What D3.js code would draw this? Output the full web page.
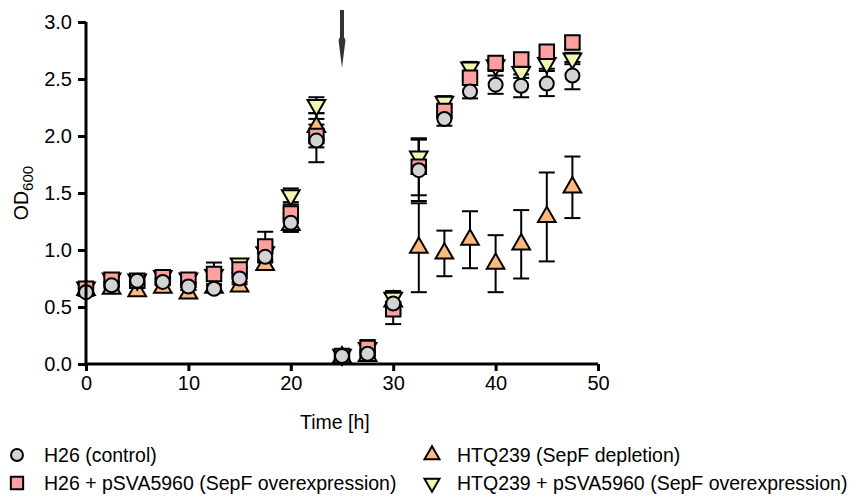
<!DOCTYPE html>
<html>
<head>
<meta charset="utf-8">
<script src="https://cdn.jsdelivr.net/npm/d3@7"></script>
<style>
  html, body { margin: 0; padding: 0; background: #fff; }
  svg { display: block; }
  text { font-family: "Liberation Sans", Arial, sans-serif; fill: #000; }
</style>
</head>
<body>
<div id="chart"></div>
<script>
// ---- data ----
const times = [0, 2.5, 5, 7.5, 10, 12.5, 15, 17.5, 20, 22.5, 25, 27.5, 30, 32.5, 35, 37.5, 40, 42.5, 45, 47.5];

const h26Values   = [0.63, 0.69, 0.73, 0.72, 0.68, 0.66, 0.75, 0.94, 1.24, 1.96, 0.07, 0.09, 0.53, 1.70, 2.15, 2.39, 2.45, 2.44, 2.46, 2.53];
const h26Errors   = [0.03, 0.03, 0.03, 0.03, 0.03, 0.03, 0.05, 0.05, 0.08, 0.19, 0.02, 0.03, 0.09, 0.27, 0.06, 0.06, 0.08, 0.10, 0.11, 0.12];

const h26pValues  = [0.66, 0.74, 0.73, 0.76, 0.74, 0.79, 0.83, 1.03, 1.32, 2.00, 0.07, 0.14, 0.48, 1.73, 2.22, 2.51, 2.64, 2.67, 2.74, 2.82];
const h26pErrors  = [0.03, 0.04, 0.04, 0.04, 0.04, 0.10, 0.08, 0.13, 0.08, 0.10, 0.03, 0.07, 0.13, 0.25, 0.05, 0.05, 0.05, 0.05, 0.05, 0.05];

const htqValues   = [0.65, 0.66, 0.64, 0.67, 0.62, 0.67, 0.68, 0.87, 1.22, 2.08, 0.06, 0.07, 0.55, 1.02, 0.97, 1.09, 0.88, 1.05, 1.29, 1.55];
const htqErrors   = [0.03, 0.03, 0.03, 0.03, 0.03, 0.03, 0.04, 0.04, 0.06, 0.12, 0.02, 0.03, 0.08, 0.39, 0.20, 0.25, 0.25, 0.30, 0.39, 0.27];

const htqpValues  = [0.67, 0.75, 0.74, 0.77, 0.75, 0.78, 0.88, 0.98, 1.48, 2.27, 0.08, 0.14, 0.58, 1.82, 2.30, 2.60, 2.62, 2.56, 2.64, 2.68];
const htqpErrors  = [0.03, 0.03, 0.03, 0.03, 0.03, 0.03, 0.04, 0.06, 0.06, 0.07, 0.02, 0.03, 0.06, 0.15, 0.05, 0.05, 0.05, 0.05, 0.05, 0.05];

const seriesNames = ["H26 (control)", "H26 + pSVA5960 (SepF overexpression)", "HTQ239 (SepF depletion)", "HTQ239 + pSVA5960 (SepF overexpression)"];
const xTicks = [0, 10, 20, 30, 40, 50];
const yTicks = [0.0, 0.5, 1.0, 1.5, 2.0, 2.5, 3.0];
const arrowTime = 25;

// ---- layout ----
const W = 857, H = 504;
const margin = { left: 86, right: 259, top: 22, bottom: 140 };
const x = d3.scaleLinear().domain([0, 50]).range([margin.left, W - margin.right]);
const y = d3.scaleLinear().domain([0, 3]).range([H - margin.bottom, margin.top]);

const svg = d3.select("#chart").append("svg").attr("width", W).attr("height", H);

const series = [
  { name: seriesNames[2], values: htqValues,  errors: htqErrors,  shape: "up",     fill: "#ffb97c" },
  { name: seriesNames[3], values: htqpValues, errors: htqpErrors, shape: "down",   fill: "#f3f7b2" },
  { name: seriesNames[1], values: h26pValues, errors: h26pErrors, shape: "square", fill: "#fca0a0" },
  { name: seriesNames[0], values: h26Values,  errors: h26Errors,  shape: "circle", fill: "#d4d4d4" }
];

function symbolPath(shape, scale) {
  const k = scale || 1;
  if (shape === "circle") return d3.symbol(d3.symbolCircle, 154 * k * k)();
  if (shape === "square") return d3.symbol(d3.symbolSquare, 210 * k * k)();
  return d3.symbol(d3.symbolTriangle, 135 * k * k)();
}

// ---- error bars ----
const capW = 8;
const eb = svg.append("g").attr("stroke", "#000").attr("stroke-width", 2).attr("fill", "none");
series.forEach(s => {
  times.forEach((t, i) => {
    const v = s.values[i], e = s.errors[i];
    const cx = x(t);
    eb.append("line").attr("x1", cx).attr("x2", cx).attr("y1", y(v - e)).attr("y2", y(v + e));
    eb.append("line").attr("x1", cx - capW).attr("x2", cx + capW).attr("y1", y(v - e)).attr("y2", y(v - e));
    eb.append("line").attr("x1", cx - capW).attr("x2", cx + capW).attr("y1", y(v + e)).attr("y2", y(v + e));
  });
});

// ---- markers ----
series.forEach(s => {
  svg.append("g").selectAll("path").data(times).join("path")
    .attr("d", symbolPath(s.shape))
    .attr("transform", (t, i) => `translate(${x(t)},${y(s.values[i])})` + (s.shape === "down" ? " rotate(180)" : ""))
    .attr("fill", s.fill)
    .attr("stroke", "#000")
    .attr("stroke-width", 2);
});

// ---- axes ----
const xAxis = svg.append("g").attr("transform", `translate(0,${y(0)})`)
  .call(d3.axisBottom(x).tickValues(xTicks).tickFormat(d3.format("d")).tickSize(7).tickPadding(5));
const yAxis = svg.append("g").attr("transform", `translate(${x(0)},0)`)
  .call(d3.axisLeft(y).tickValues(yTicks).tickFormat(d3.format(".1f")).tickSize(8).tickPadding(6));
[xAxis, yAxis].forEach(a => {
  a.select(".domain").attr("stroke", "#000").attr("stroke-width", 3);
  a.selectAll(".tick line").attr("stroke", "#000").attr("stroke-width", 3);
  a.selectAll(".tick text").style("font-size", "20px").style("font-family", "Liberation Sans, Arial, sans-serif").attr("fill", "#000");
});
xAxis.select(".domain").attr("d", `M${x(0)},0H${x(50)}`);
yAxis.select(".domain").attr("d", `M0,${y(0)}V${y(3)}`);

// ---- axis titles ----
svg.append("text").attr("x", x(24.3)).attr("y", 429).attr("text-anchor", "middle")
  .style("font-size", "19.5px").text("Time [h]");

const yl = svg.append("text").attr("transform", `translate(28,${(y(0) + y(3)) / 2}) rotate(-90)`)
  .attr("text-anchor", "middle").style("font-size", "19.5px");
yl.append("tspan").text("OD");
yl.append("tspan").attr("dy", 5).style("font-size", "15px").text("600");

// ---- arrow annotation ----
const ax = x(arrowTime);
svg.append("path")
  .attr("d", `M${ax - 2},10 L${ax + 2},10 L${ax + 2},37 L${ax + 3.5},40 L${ax},68 L${ax - 3.5},40 L${ax - 2},37 Z`)
  .attr("fill", "#333");

// ---- legend ----
const legendItems = [
  { s: series[3], lx: 17,  ly: 455, tx: 44 },
  { s: series[2], lx: 17,  ly: 483, tx: 44 },
  { s: series[0], lx: 432, ly: 455, tx: 457 },
  { s: series[1], lx: 432, ly: 483, tx: 457 }
];
legendItems.forEach(it => {
  svg.append("path").attr("d", symbolPath(it.s.shape, 0.85))
    .attr("transform", `translate(${it.lx},${it.ly})` + (it.s.shape === "down" ? " rotate(180)" : ""))
    .attr("fill", it.s.fill).attr("stroke", "#000").attr("stroke-width", 2);
  svg.append("text").attr("x", it.tx).attr("y", it.ly + 7)
    .style("font-size", "19.5px").text(it.s.name);
});
</script>
</body>
</html>
